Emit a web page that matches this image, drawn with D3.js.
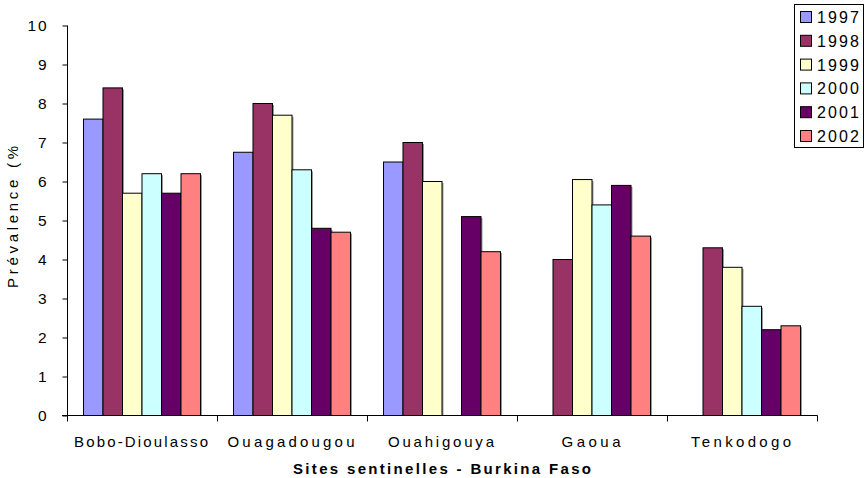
<!DOCTYPE html>
<html><head><meta charset="utf-8">
<script src="https://cdn.jsdelivr.net/npm/d3@7"></script>
<style>body{margin:0;background:#fff}svg{display:block}text{font-family:"Liberation Sans",Arial,sans-serif}</style>
</head><body>
<svg id="c" width="865" height="478"></svg>
<script>
const sites = ["Bobo-Dioulasso","Ouagadougou","Ouahigouya","Gaoua","Tenkodogo"];
const years = ["1997","1998","1999","2000","2001","2002"];
const colors = ["#9999FF","#993366","#FFFFCC","#CCFFFF","#660066","#FF8080"];
const v1997 = [7.6, 6.75, 6.5, null, null];
const v1998 = [8.4, 8.0, 7.0, 4.0, 4.3];
const v1999 = [5.7, 7.7, 6.0, 6.05, 3.8];
const v2000 = [6.2, 6.3, null, 5.4, 2.8];
const v2001 = [5.7, 4.8, 5.1, 5.9, 2.2];
const v2002 = [6.2, 4.7, 4.2, 4.6, 2.3];
const yTicks = [0,1,2,3,4,5,6,7,8,9,10];
const series = [v1997,v1998,v1999,v2000,v2001,v2002];
const siteLabelWidths = [134,127,106,59,100];

const svg = d3.select("#c");
const x0 = d3.scaleBand().domain(sites).range([67,817]).paddingInner(0.22).paddingOuter(0.11);
const x1 = d3.scaleBand().domain(years).range([0,x0.bandwidth()]);
const y = d3.scaleLinear().domain([0,10]).range([415.5,25.5]);

// bars
sites.forEach((s,i)=>{
  const g = svg.append("g").attr("transform",`translate(${x0(s)},0)`);
  years.forEach((yr,j)=>{
    const v = series[j][i];
    if (v==null) return;
    g.append("rect").attr("x",x1(yr)+1.5).attr("y",y(v)+1.5)
      .attr("width",x1.bandwidth()).attr("height",y(0)-y(v)-1.5).attr("fill","#999");
    g.append("rect").attr("x",x1(yr)).attr("y",y(v))
      .attr("width",x1.bandwidth()).attr("height",y(0)-y(v))
      .attr("fill",colors[j]).attr("stroke","#000").attr("stroke-width",1);
  });
});

// y axis
const ya = svg.append("g").attr("transform","translate(67.5,0)")
  .call(d3.axisLeft(y).tickValues(yTicks).tickSize(5).tickPadding(16).tickFormat(d3.format("d")));
ya.select(".domain").attr("d","M0,25.5V415.5");
ya.selectAll("text").attr("font-size","15.5px").attr("fill","#000")
  .attr("font-family","Liberation Sans, Arial, sans-serif")
  .each(function(d){ if (String(d).length>1) d3.select(this).attr("textLength",19).attr("lengthAdjust","spacing"); });

// x axis
const xa = svg.append("g").attr("transform","translate(0,415.5)");
xa.append("line").attr("x1",62).attr("x2",817.5).attr("stroke","#000");
const bounds = [67].concat(sites.map(s=>x0(s)+x0.bandwidth()+x0.step()*x0.paddingInner()/2));
bounds[bounds.length-1]=817;
bounds.forEach(b=>xa.append("line").attr("x1",Math.round(b)+0.5).attr("x2",Math.round(b)+0.5).attr("y1",0).attr("y2",6).attr("stroke","#000"));
sites.forEach((s,i)=>{
  svg.append("text").attr("x",x0(s)+x0.bandwidth()/2-1-siteLabelWidths[i]/2).attr("y",447)
    .attr("font-size","15px").attr("textLength",siteLabelWidths[i]).attr("lengthAdjust","spacing").text(s);
});

svg.append("text").attr("x",293).attr("y",474)
  .attr("font-size","15px").attr("font-weight","bold").attr("textLength",298).attr("lengthAdjust","spacing")
  .text("Sites sentinelles - Burkina Faso");
svg.append("text").attr("transform","translate(18,288) rotate(-90)")
  .attr("font-size","15px").attr("textLength",142).attr("lengthAdjust","spacing").text("Prévalence (%");

// legend
const lg = svg.append("g");
lg.append("rect").attr("x",794.5).attr("y",4.5).attr("width",69).attr("height",143).attr("fill","#fff").attr("stroke","#000");
years.forEach((yr,j)=>{
  const cy = 17 + j*23.8;
  lg.append("rect").attr("x",800.5).attr("y",cy-5.5).attr("width",11).attr("height",11)
    .attr("fill",colors[j]).attr("stroke","#000");
  lg.append("text").attr("x",817).attr("y",cy+6).attr("font-size","16px")
    .attr("textLength",42).attr("lengthAdjust","spacing").text(yr);
});
</script>
</body></html>
